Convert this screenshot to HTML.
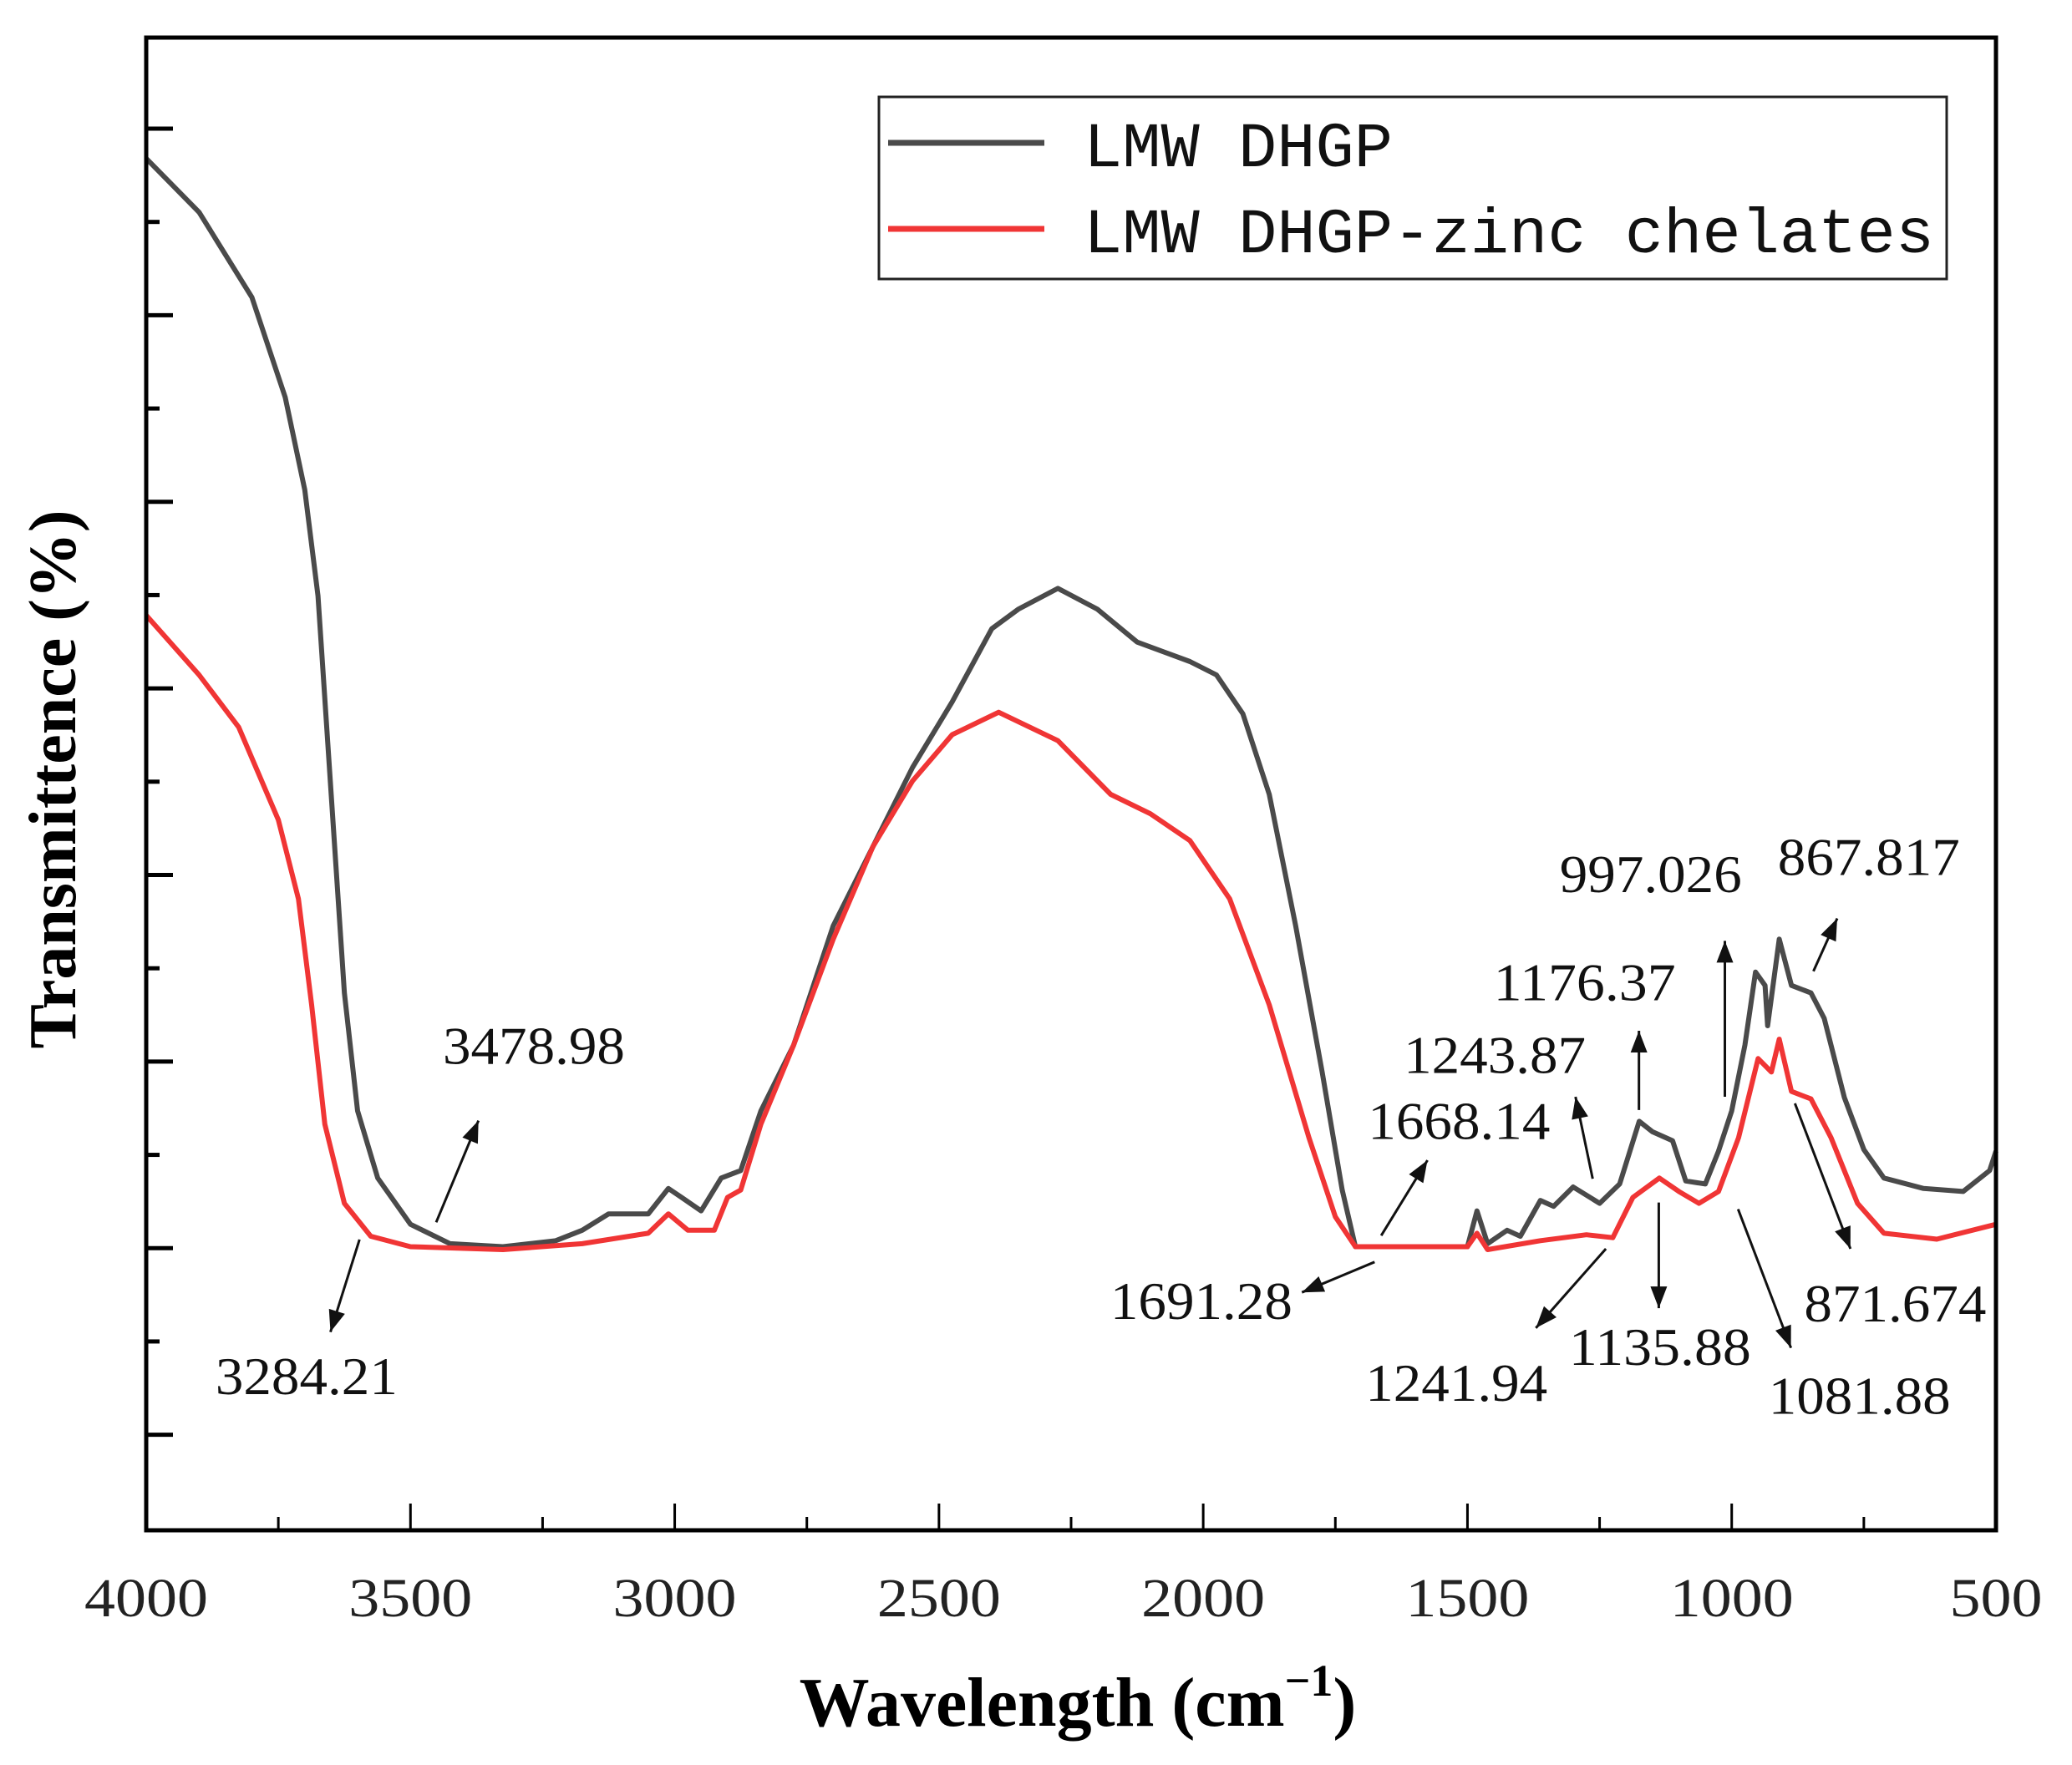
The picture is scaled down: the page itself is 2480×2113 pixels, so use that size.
<!DOCTYPE html>
<html><head><meta charset="utf-8"><style>
html,body{margin:0;padding:0;background:#fff;}
svg{display:block;}
</style></head><body>
<svg id="chart" xmlns="http://www.w3.org/2000/svg" width="2480" height="2113" viewBox="0 0 2480 2113">
<rect width="2480" height="2113" fill="#fff"/>
<g id="ticks"></g>
<g id="series"></g>
<g id="annots"></g>
<rect x="175" y="45" width="2214" height="1787" fill="none" stroke="#000" stroke-width="5"/>
<g>
<rect x="1052" y="116" width="1278" height="218" fill="#fff" stroke="#222" stroke-width="3"/>
<line x1="1063" y1="171" x2="1250" y2="171" stroke="#4a4a4a" stroke-width="7"/>
<text x="1297" y="199" font-family="Liberation Mono, monospace" font-size="76" textLength="370" lengthAdjust="spacingAndGlyphs" fill="#111">LMW DHGP</text>
<line x1="1063" y1="274" x2="1250" y2="274" stroke="#f03535" stroke-width="7"/>
<text x="1297" y="302" font-family="Liberation Mono, monospace" font-size="76" textLength="1018" lengthAdjust="spacingAndGlyphs" fill="#111">LMW DHGP-zinc chelates</text>
</g>
<text x="1290" y="2066" text-anchor="middle" font-family="Liberation Serif, serif" font-weight="bold" font-size="84" fill="#000">Wavelength (cm<tspan font-size="54" dy="-36">−1</tspan><tspan dy="36">)</tspan></text>
<text transform="translate(90,933) rotate(-90)" text-anchor="middle" font-family="Liberation Serif, serif" font-weight="bold" font-size="80" fill="#000">Transmittence (%)</text>
</svg>
<script>
const NS='http://www.w3.org/2000/svg';
const xTickLabels=[4000,3500,3000,2500,2000,1500,1000,500];
const yMajorTicks=[6.4,18.9,31.4,43.9,56.4,68.9,81.4,93.9];
const wnDHGP=[4000,3900,3800,3737,3700,3675,3650,3625,3600,3562,3500,3425,3325,3225,3175,3125,3050,3012,2987,2950,2912,2875,2837,2775,2700,2625,2550,2475,2400,2350,2275,2200,2125,2025,1975,1925,1875,1825,1775,1737,1712,1675,1500,1482,1462,1425,1400,1362,1337,1300,1250,1212,1175,1150,1112,1087,1050,1025,1000,975,955,937,932,910,887,850,825,787,750,712,637,562,512,500];
const tDHGP=[91.9,88.3,82.6,75.9,69.7,62.6,49.3,36.0,28.1,23.6,20.5,19.2,19.0,19.4,20.1,21.2,21.2,22.9,22.3,21.4,23.6,24.1,28.1,32.5,40.5,45.8,51.1,55.5,60.4,61.7,63.1,61.7,59.5,58.2,57.3,54.7,49.3,40.5,30.7,22.8,19.0,19.0,19.0,21.4,19.2,20.1,19.7,22.1,21.7,23.0,21.9,23.2,27.4,26.7,26.1,23.4,23.2,25.4,28.1,32.5,37.4,36.5,33.8,39.6,36.5,36.0,34.3,29.0,25.5,23.6,22.9,22.7,24.1,25.4];
const wnZinc=[4000,3900,3825,3750,3712,3687,3662,3625,3575,3500,3325,3175,3050,3012,2975,2925,2900,2875,2837,2775,2700,2625,2550,2475,2387,2275,2175,2100,2025,1950,1875,1800,1750,1712,1500,1482,1462,1362,1275,1225,1187,1137,1100,1062,1025,987,950,925,910,887,850,812,762,712,612,500];
const tZinc=[61.3,57.3,53.8,47.6,42.3,35.2,27.2,21.9,19.7,19.0,18.8,19.2,19.9,21.2,20.1,20.1,22.3,22.8,27.2,32.5,39.6,45.8,50.2,53.3,54.8,52.9,49.3,48.0,46.2,42.3,35.2,26.3,21.0,19.0,19.0,19.9,18.8,19.4,19.8,19.6,22.3,23.6,22.7,21.9,22.7,26.3,31.6,30.7,32.9,29.4,28.9,26.3,21.9,19.9,19.5,20.5];
const X0=175,X1=2389,Y0=1832,Y1=45;
const xs=w=>X0+(4000-w)/3500*(X1-X0);
const ys=v=>Y0-v/100*(Y0-Y1);
function mk(tag,attrs,parent){const e=document.createElementNS(NS,tag);for(const k in attrs)e.setAttribute(k,attrs[k]);parent.appendChild(e);return e;}
const tg=document.getElementById('ticks');
for(let w=4000;w>=500;w-=250){
  const major=(w%500===0);
  const l=mk('line',{x1:xs(w),x2:xs(w),y1:Y0,y2:Y0-(major?32:16),stroke:'#000','stroke-width':3},tg);
  
  
}
xTickLabels.forEach(w=>{
  const s=String(w);
  const t=mk('text',{x:xs(w),y:1935,'text-anchor':'middle','font-family':'Liberation Serif, serif','font-size':66,textLength:s.length*37,lengthAdjust:'spacingAndGlyphs',fill:'#222'},tg);
  t.textContent=s;
  
  
});
yMajorTicks.forEach((v,i)=>{
  const l=mk('line',{x1:X0,x2:X0+32,y1:ys(v),y2:ys(v),stroke:'#000','stroke-width':5},tg);
  
  
  if(i<yMajorTicks.length-1){
    const m=(v+yMajorTicks[i+1])/2;
    const l2=mk('line',{x1:X0,x2:X0+16,y1:ys(m),y2:ys(m),stroke:'#000','stroke-width':5},tg);
    
    
  }
});
const sg=document.getElementById('series');
function path(wn,t){return wn.map((w,i)=>(i?'L':'M')+xs(w).toFixed(1)+','+ys(t[i]).toFixed(1)).join(' ');}
const p1=mk('path',{d:path(wnDHGP,tDHGP),fill:'none',stroke:'#4a4a4a','stroke-width':6,'stroke-linejoin':'round'},sg);


const p2=mk('path',{d:path(wnZinc,tZinc),fill:'none',stroke:'#f03535','stroke-width':6,'stroke-linejoin':'round'},sg);


const S=1.582;
const annLabels=['3478.98','3284.21','1691.28','1668.14','1243.87','1176.37','997.026','867.817','1241.94','1135.88','871.674','1081.88'];
const annPos=[[335,805],[163,1055],[840,998],[1035,862],[1062,812],[1130,757],[1180,675],[1345,662],[1033,1060],[1187,1033],[1365,1000],[1338,1070]];
const annArrows=[[330,925,362,848],[272,938,250,1008],[1040,955,985,978],[1045,935,1080,878],[1205,892,1192,830],[1240,840,1240,780],[1305,830,1305,712],[1372,735,1390,695],[1215,945,1162,1005],[1255,910,1255,990],[1358,835,1400,945],[1315,915,1355,1020]];
const ag=document.getElementById('annots');
annLabels.forEach((lab,i)=>{
  const t=mk('text',{x:annPos[i][0]*S,y:annPos[i][1]*S,'font-family':'Liberation Serif, serif','font-size':64,textLength:218,lengthAdjust:'spacingAndGlyphs',fill:'#111'},ag);
  t.textContent=lab;
  
  
  const [a,b,c,d]=annArrows[i].map(v=>v*S);
  const ln=mk('line',{x1:a,y1:b,x2:c,y2:d,stroke:'#111','stroke-width':3},ag);
  
  
  const ang=Math.atan2(d-b,c-a),L=26,W=10;
  const bx=c-L*Math.cos(ang),by=d-L*Math.sin(ang);
  const px=-Math.sin(ang)*W,py=Math.cos(ang)*W;
  const hd=mk('polygon',{points:`${c},${d} ${bx+px},${by+py} ${bx-px},${by-py}`,fill:'#111'},ag);
  
  
});
</script>
</body></html>
